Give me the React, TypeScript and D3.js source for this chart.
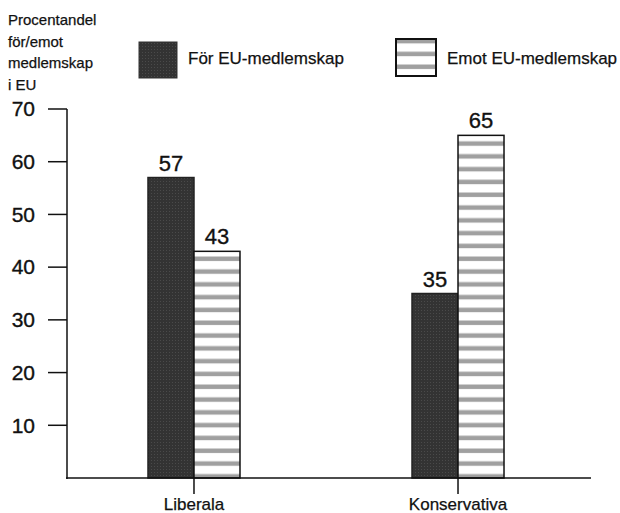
import * as d3 from "d3"

const categories = ["Liberala", "Konservativa"]
const seriesNames = ["För EU-medlemskap", "Emot EU-medlemskap"]
const forValues = [57, 35]
const againstValues = [43, 65]
const yTicks = [10, 20, 30, 40, 50, 60, 70]
const titleLines = ["Procentandel", "för/emot", "medlemskap", "i EU"]

const FONT = "Liberation Sans, Arial, Helvetica, sans-serif"
// scanned print looks a bit heavier than plain Arial
const ink = { fill: "#111", stroke: "#111", strokeWidth: 0.35, fontFamily: FONT }

export default function App() {
  const width = 620
  const height = 513

  const x = d3.scalePoint<string>().domain(categories).range([67, 585]).padding(0.481)
  const inner = d3.scaleBand<string>().domain(seriesNames).range([-46, 46])
  const y = d3.scaleLinear().domain([0, 70]).range([478, 109])

  const series = [
    { name: seriesNames[0], values: forValues, fill: "url(#darkFill)", stroke: "#222" },
    { name: seriesNames[1], values: againstValues, fill: "url(#stripes)", stroke: "#111" },
  ]

  return (
    <div style={{ position: "fixed", left: 0, top: 0, background: "#fff" }}>
      <svg width={width} height={height} style={{ display: "block" }}>
        <defs>
          <pattern id="stripes" patternUnits="userSpaceOnUse" width={8} height={12.8}>
            <rect width={8} height={12.8} fill="#fff" />
            <rect y={0.5} width={8} height={4.5} fill="#a0a0a0" />
          </pattern>
          <pattern id="darkFill" patternUnits="userSpaceOnUse" width={3} height={3}>
            <rect width={3} height={3} fill="#333" />
            <rect x={1} y={1} width={1} height={1} fill="#4a4a4a" />
          </pattern>
        </defs>

        {/* y title */}
        <text fontSize={15} {...ink} strokeWidth={0.25}>
          {titleLines.map((t, i) => (
            <tspan key={t} x={8} y={25 + i * 21.5}>
              {t}
            </tspan>
          ))}
        </text>

        {/* legend */}
        <rect x={139} y={42} width={38} height={36} fill="url(#darkFill)" stroke="#333" strokeWidth={1} />
        <text x={188} y={64} fontSize={17} {...ink} strokeWidth={0.25}>
          {seriesNames[0]}
        </text>
        <rect x={396} y={39} width={40} height={37} fill="url(#stripes)" stroke="#111" strokeWidth={2} />
        <text x={447} y={64} fontSize={17} {...ink} strokeWidth={0.25}>
          {seriesNames[1]}
        </text>

        {/* bars */}
        {series.map((s) =>
          categories.map((c, i) => {
            const bx = (x(c) as number) + (inner(s.name) as number)
            const v = s.values[i]
            return (
              <g key={s.name + c}>
                <rect
                  x={bx}
                  y={y(v)}
                  width={inner.bandwidth()}
                  height={y(0) - y(v)}
                  fill={s.fill}
                  stroke={s.stroke}
                  strokeWidth={1.5}
                />
                <text x={bx + inner.bandwidth() / 2} y={y(v) - 7} textAnchor="middle" fontSize={22} {...ink}>
                  {v}
                </text>
              </g>
            )
          })
        )}

        {/* y axis */}
        <line x1={67} x2={67} y1={y(70)} y2={y(0) + 1} stroke="#111" strokeWidth={1.5} />
        {yTicks.map((t) => (
          <g key={t}>
            <line x1={48} x2={67} y1={y(t)} y2={y(t)} stroke="#111" strokeWidth={1.5} />
            <text x={35} y={y(t)} dy="0.35em" textAnchor="end" fontSize={21} {...ink}>
              {t}
            </text>
          </g>
        ))}

        {/* x axis */}
        <line x1={66} x2={591} y1={y(0)} y2={y(0)} stroke="#111" strokeWidth={1.5} />
        {categories.map((c) => (
          <g key={c}>
            <line x1={x(c) as number} x2={x(c) as number} y1={y(0)} y2={y(0) + 16} stroke="#111" strokeWidth={1.5} />
            <text x={x(c) as number} y={510} textAnchor="middle" fontSize={17} {...ink} strokeWidth={0.25}>
              {c}
            </text>
          </g>
        ))}
      </svg>
    </div>
  )
}
